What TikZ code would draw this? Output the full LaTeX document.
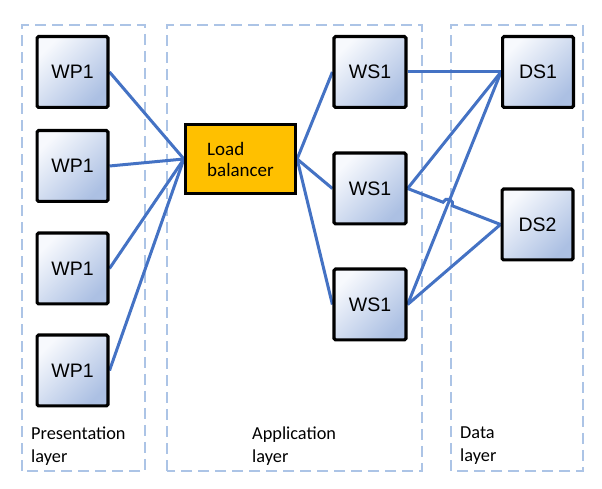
\documentclass[tikz,border=0pt]{standalone}
\usepackage{fontspec}
\setmainfont{Carlito}
\newfontfamily\arialf{Liberation Sans}
\usetikzlibrary{calc,backgrounds}
\definecolor{linkblue}{RGB}{68,114,196}
\definecolor{layerblue}{RGB}{172,196,230}
\definecolor{boxlight}{RGB}{247,249,253}
\definecolor{boxdark}{RGB}{172,192,227}
\definecolor{lbfill}{RGB}{255,192,0}
\begin{document}
\begin{tikzpicture}[x=1pt,y=1pt,
 srv/.style={draw=black, line width=3.2pt, rounded corners=1.5pt, minimum width=70.8pt, minimum height=70.8pt, inner sep=0pt, top color=boxlight, bottom color=boxdark, shading angle=45, font=\arialf\fontsize{19.5}{22}\selectfont},
 lbbox/.style={draw=black, line width=3.2pt, fill=lbfill, minimum width=110pt, minimum height=69pt, align=left, font=\fontsize{19}{21}\selectfont, inner sep=0pt},
 layer/.style={draw=layerblue, line width=1.8pt, dash pattern=on 11pt off 6pt},
 link/.style={draw=linkblue, line width=3pt},
 lbl/.style={anchor=north west, align=left, inner sep=0pt, font=\fontsize{18.3}{23}\selectfont}]
\useasboundingbox (0,0) rectangle (602,489);
\node[srv] (wp1) at (72.5,417) {WP1};
\node[srv] (wp2) at (72.5,323) {WP1};
\node[srv] (wp3) at (72.5,220.5) {WP1};
\node[srv] (wp4) at (72.5,118.5) {WP1};
\node[lbbox] (lb) at (240.5,330) {Load\\balancer};
\node[srv, minimum width=72pt] (ws1) at (370,417) {WS1};
\node[srv, minimum width=72pt] (ws2) at (370,300.5) {WS1};
\node[srv, minimum width=72pt] (ws3) at (370,184.5) {WS1};
\node[srv] (ds1) at (538,417) {DS1};
\node[srv] (ds2) at (537.5,264.5) {DS2};
\node[lbl] (lp) at (31,62) {Presentation\\layer};
\node[lbl] (la) at (252,62) {Application\\layer};
\node[lbl] (ld) at (460,62) {Data\\layer};
\begin{pgfonlayer}{background}
\fill[white] (0,0) rectangle (602,489);
\draw[layer] (22,18) rectangle (145,464);
\draw[layer] (167,18) rectangle (422,464);
\draw[layer] (451,18) rectangle (583,464);
\foreach \w in {wp1,wp2,wp3,wp4} \draw[link] (\w.east) -- (lb.west);
\foreach \w in {ws1,ws2,ws3} \draw[link] (lb.east) -- (\w.west);
\draw[link] (ws1.east) -- (ds1.west);
\draw[link] (ws2.east) -- (ds1.west);
\draw[link] (ws3.east) -- (ds1.west);
\draw[link] (ws3.east) -- (ds2.west);
\draw[link] (ws2.east) -- ($(ws2.east)!0.382!(ds2.west)$) arc[start angle=158.94, end angle=-21.06, radius=5] -- (ds2.west);
\end{pgfonlayer}
\end{tikzpicture}
\end{document}
